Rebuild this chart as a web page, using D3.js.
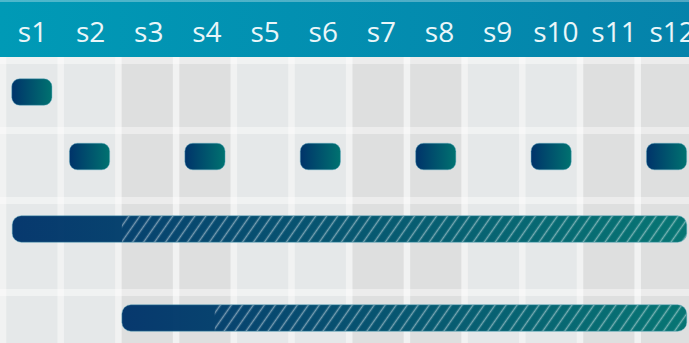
<!DOCTYPE html>
<html>
<head>
<meta charset="utf-8">
<script src="https://cdn.jsdelivr.net/npm/d3@7"></script>
<style>
   html, body { margin: 0; padding: 0; background: #f1f2f2; overflow: hidden; }
   .chart-container svg { display: block; }
</style>
</head>
<body>
<div class="chart-container"></div>
<script>
// sprint plan: header of sprints, milestone pills and long work bars

const sprints = ['s1', 's2', 's3', 's4', 's5', 's6', 's7', 's8', 's9', 's10', 's11', 's12'];
const rows = ['r1', 'r2', 'r3', 'r4'];

// milestones (one pill inside a sprint column)
const milestone_rows = ['r1', 'r2', 'r2', 'r2', 'r2', 'r2', 'r2'];
const milestone_sprints = ['s1', 's2', 's4', 's6', 's8', 's10', 's12'];

// long bars, in sprint units: solid from start to split, hatched from split to end
const bar_rows = ['r3', 'r4'];
const bar_start = [0.16, 2.06];
const bar_split = [2.06, 3.67];
const bar_end = [11.85, 11.85];

function build_svg(width, height) {
   return d3.select('.chart-container')
      .append('svg')
      .attr('width', width)
      .attr('height', height);
}

function add_defs(svg) {
   const defs = svg.append('defs');

   const head = defs.append('linearGradient')
      .attr('id', 'head-grad')
      .attr('x1', 0).attr('x2', 1).attr('y1', 0).attr('y2', 0);
   head.append('stop').attr('offset', 0).attr('stop-color', '#009ab6');
   head.append('stop').attr('offset', 1).attr('stop-color', '#0582aa');

   const bar = defs.append('linearGradient')
      .attr('id', 'bar-grad')
      .attr('x1', 0).attr('x2', 1).attr('y1', 0).attr('y2', 0);
   bar.append('stop').attr('offset', 0).attr('stop-color', '#00336a');
   bar.append('stop').attr('offset', 1).attr('stop-color', '#007270');

   const hatch = defs.append('pattern')
      .attr('id', 'hatch')
      .attr('patternUnits', 'userSpaceOnUse')
      .attr('width', 9)
      .attr('height', 9)
      .attr('patternTransform', 'rotate(35)');
   hatch.append('line')
      .attr('x1', 4.5).attr('x2', 4.5)
      .attr('y1', 0).attr('y2', 9)
      .style('stroke', 'rgba(255,255,255,0.45)')
      .style('stroke-width', 1.5);

   return defs;
}

function draw_grid(svg, col_scale, row_top, row_height, header_h, height) {
   // column bands, alternating in pairs
   svg.append('g')
      .selectAll('rect')
      .data(sprints)
      .enter()
      .append('rect')
      .attr('x', d => col_scale(d))
      .attr('y', header_h)
      .attr('width', col_scale.bandwidth())
      .attr('height', height - header_h)
      .style('fill', (d, i) => Math.floor(i / 2) % 2 === 0 ? '#e5e8e9' : '#dedfdf');

   // horizontal separators above every row
   svg.append('g')
      .selectAll('rect')
      .data(rows)
      .enter()
      .append('rect')
      .attr('x', 0)
      .attr('y', d => row_top(d) - 7)
      .attr('width', 700)
      .attr('height', 7)
      .style('fill', '#ffffff')
      .style('fill-opacity', 0.42);
}

function draw_header(svg, label_scale, header_h) {
   svg.append('rect')
      .attr('x', 0).attr('y', 0)
      .attr('width', 700).attr('height', header_h)
      .style('fill', 'url(#head-grad)');

   svg.append('line')
      .attr('x1', 0).attr('x2', 700)
      .attr('y1', 1).attr('y2', 1)
      .style('stroke', 'rgba(255,255,255,0.3)')
      .style('stroke-width', 2);

   svg.append('g')
      .selectAll('text')
      .data(sprints)
      .enter()
      .append('text')
      .attr('x', d => label_scale(d) + label_scale.bandwidth() / 2)
      .attr('y', 42)
      .attr('text-anchor', 'middle')
      .text(d => d)
      .style('font-family', '"Open Sans", sans-serif')
      .style('font-size', '28px')
      .style('fill', '#eaf6f9');
}

function draw_milestones(svg, col_scale, lane_y, pill_h) {
   const data = milestone_sprints.map((s, i) => ({sprint: s, row: milestone_rows[i]}));
   svg.append('g')
      .attr('class', 'milestones')
      .selectAll('rect')
      .data(data)
      .enter()
      .append('rect')
      .attr('x', d => col_scale(d.sprint) + 5.5)
      .attr('y', d => lane_y(d.row) - pill_h / 2)
      .attr('width', col_scale.bandwidth() - 11)
      .attr('height', pill_h)
      .attr('rx', 8)
      .style('fill', 'url(#bar-grad)')
      .style('stroke', 'rgba(90,170,190,0.55)')
      .style('stroke-width', 0.8);
}

function draw_bars(svg, defs, x_time, lane_y, bar_h) {
   const data = bar_rows.map((r, i) => ({
      row: r, start: bar_start[i], split: bar_split[i], end: bar_end[i]
   }));

   data.forEach((d, i) => {
      const x0 = x_time(d.start);
      const x1 = x_time(d.end);
      const y0 = lane_y(d.row) - bar_h / 2;

      defs.append('clipPath')
         .attr('id', `bar-clip-${i}`)
         .append('rect')
         .attr('x', x0).attr('y', y0)
         .attr('width', x1 - x0).attr('height', bar_h)
         .attr('rx', 9);

      const g = svg.append('g').attr('class', 'bar');

      g.append('rect')
         .attr('x', x0).attr('y', y0)
         .attr('width', x1 - x0).attr('height', bar_h)
         .attr('rx', 9)
         .style('fill', 'url(#bar-grad)')
         .style('fill-opacity', 0.97);

      g.append('rect')
         .attr('clip-path', `url(#bar-clip-${i})`)
         .attr('x', x_time(d.split)).attr('y', y0)
         .attr('width', x1 - x_time(d.split)).attr('height', bar_h)
         .style('fill', 'url(#hatch)');

      g.append('rect')
         .attr('x', x0).attr('y', y0)
         .attr('width', x1 - x0).attr('height', bar_h)
         .attr('rx', 9)
         .style('fill', 'none')
         .style('stroke', 'rgba(90,170,190,0.55)')
         .style('stroke-width', 0.8);
   });
}

function chart_main() {
   const width = 689;
   const height = 343;
   const header_h = 57;
   const step = 57.7;

   const col_scale = d3.scaleBand()
      .domain(sprints)
      .range([3, 3 + step * sprints.length])
      .paddingInner(0.113)
      .paddingOuter(0.0565);

   const x_time = d3.scaleLinear()
      .domain([0, sprints.length])
      .range([3, 3 + step * sprints.length]);

   const label_scale = d3.scaleBand()
      .domain(sprints)
      .range([3.4, 3.4 + 58.15 * sprints.length]);

   // rows are not all the same height
   const row_top = d3.scaleOrdinal().domain(rows).range([64, 134, 204, 296]);
   const row_height = d3.scaleOrdinal().domain(rows).range([63, 62, 84, 84]);
   const lane_y = d3.scaleOrdinal().domain(rows).range([92, 156.5, 229, 318]);

   const svg = build_svg(width, height);
   const defs = add_defs(svg);
   draw_grid(svg, col_scale, row_top, row_height, header_h, height);
   draw_header(svg, label_scale, header_h);
   draw_milestones(svg, col_scale, lane_y, 26.5);
   draw_bars(svg, defs, x_time, lane_y, 26.5);
}

chart_main();
</script>
</body>
</html>
